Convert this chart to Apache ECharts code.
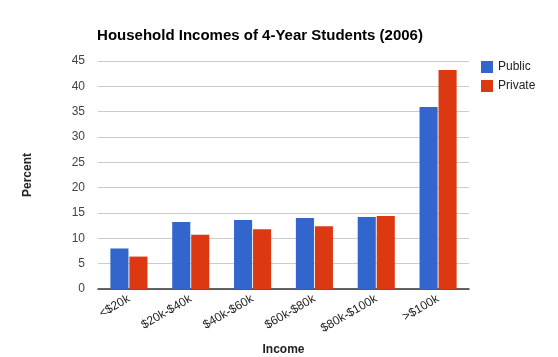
<!DOCTYPE html>
<html><head><meta charset="utf-8">
<script src="https://cdn.jsdelivr.net/npm/echarts@6/dist/echarts.min.js"></script>
<style>html,body{margin:0;padding:0;background:#fff}#c{width:558px;height:357px}</style>
</head><body><div id="c"></div>
<script>
const categories = ['<$20k', '$20k-$40k', '$40k-$60k', '$60k-$80k', '$80k-$100k', '>$100k'];
const publicVals = [8.0, 13.2, 13.6, 14.0, 14.2, 35.9];
const privateVals = [6.4, 10.7, 11.8, 12.4, 14.4, 43.2];
const yTicks = [0, 5, 10, 15, 20, 25, 30, 35, 40, 45];

const chart = echarts.init(document.getElementById('c'), null, {renderer: 'canvas'});
const F = 'Liberation Sans, Arial, sans-serif';
chart.setOption({
  animation: false,
  textStyle: {fontFamily: F},
  title: {
    text: 'Household Incomes of 4-Year Students (2006)',
    left: 255, top: 23, textAlign: 'center',
    textStyle: {fontFamily: F, fontSize: 15, fontWeight: 'bold', color: '#000'}
  },
  legend: {
    orient: 'vertical', left: 481, top: 61, padding: 0,
    itemWidth: 12, itemHeight: 12, itemGap: 7,
    icon: 'rect',
    textStyle: {fontFamily: F, fontSize: 12, color: '#222', padding: [0, 0, 0, 0]},
    data: ['Public', 'Private']
  },
  grid: {left: 98, right: 89, top: 61, bottom: 68, outerBoundsMode: 'none', containLabel: false},
  xAxis: {
    type: 'category', data: categories,
    name: 'Income', nameLocation: 'middle', nameGap: 55,
    nameTextStyle: {fontFamily: F, fontSize: 12, fontWeight: 'bold', color: '#222'},
    axisLine: {lineStyle: {color: '#333', width: 1.5}},
    axisTick: {show: false},
    axisLabel: {rotate: 30, fontSize: 12, color: '#222', fontFamily: F, margin: 9, interval: 0}
  },
  yAxis: {
    type: 'value', min: 0, max: 45, interval: 5,
    name: 'Percent', nameLocation: 'middle', nameGap: 64,
    nameTextStyle: {fontFamily: F, fontSize: 12, fontWeight: 'bold', color: '#222'},
    axisLine: {show: false}, axisTick: {show: false},
    axisLabel: {fontSize: 12, color: '#444', fontFamily: F, margin: 13,
      formatter: v => yTicks.includes(v) ? String(v) : ''},
    splitLine: {lineStyle: {color: '#cccccc', width: 1}}
  },
  series: [
    {name: 'Public', type: 'bar', data: publicVals, itemStyle: {color: '#3366cc'},
     barGap: '5%', barCategoryGap: '40%'},
    {name: 'Private', type: 'bar', data: privateVals, itemStyle: {color: '#dc3912'}}
  ]
});
</script></body></html>
